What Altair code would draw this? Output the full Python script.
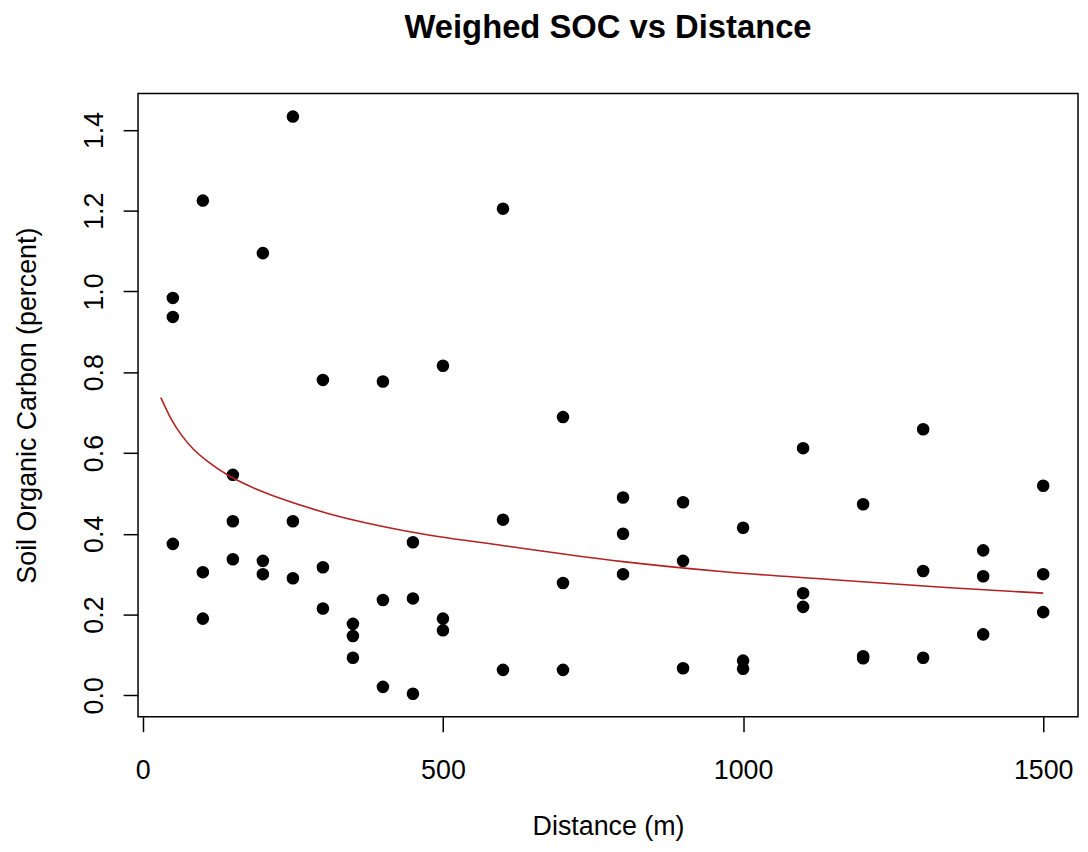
import altair as alt
import pandas as pd

# Scatter data
distance = [50, 50, 50, 100, 100, 100, 150, 150, 150, 200, 200, 200,
            250, 250, 250, 300, 300, 300, 350, 350, 350, 400, 400, 400,
            450, 450, 450, 500, 500, 500, 600, 600, 600, 700, 700, 700,
            800, 800, 800, 900, 900, 900, 1000, 1000, 1000, 1100, 1100, 1100,
            1200, 1200, 1200, 1300, 1300, 1300, 1400, 1400, 1400, 1500, 1500, 1500]
soc = [0.984, 0.937, 0.375, 1.225, 0.305, 0.190, 0.546, 0.431, 0.337,
       1.095, 0.333, 0.300, 1.433, 0.431, 0.290, 0.781, 0.317, 0.215,
       0.177, 0.147, 0.093, 0.777, 0.236, 0.021, 0.379, 0.240, 0.004,
       0.816, 0.190, 0.161, 1.205, 0.435, 0.063, 0.689, 0.278, 0.063,
       0.490, 0.400, 0.300, 0.478, 0.333, 0.067, 0.415, 0.086, 0.066,
       0.612, 0.253, 0.219, 0.473, 0.097, 0.092, 0.659, 0.308, 0.093,
       0.359, 0.295, 0.151, 0.519, 0.300, 0.206]

# Fitted curve
fit_x = [30, 48, 65, 84, 109, 142, 181, 236, 307, 445, 599, 800, 968, 1145, 1338, 1500]
fit_y = [0.737, 0.682, 0.643, 0.610, 0.578, 0.545, 0.516, 0.484, 0.451, 0.405,
         0.371, 0.331, 0.306, 0.287, 0.267, 0.253]

x_ticks = [0, 500, 1000, 1500]
y_ticks = [0.0, 0.2, 0.4, 0.6, 0.8, 1.0, 1.2, 1.4]

pts = pd.DataFrame({"Distance": distance, "SOC": soc})
fit = pd.DataFrame({"Distance": fit_x, "SOC": fit_y})

FONT = "Liberation Sans"
PW, PH = 947, 628

xscale = alt.Scale(domain=[-8, 1558], nice=False, zero=False)
yscale = alt.Scale(domain=[-0.0532, 1.4902], nice=False, zero=False)

xaxis = alt.Axis(
    values=x_ticks, format="d", title="Distance (m)", grid=False, domain=False,
    tickSize=15, tickColor="black", tickWidth=1.5,
    labelFont=FONT, labelFontSize=27, labelColor="black",
    labelBaseline="alphabetic", labelAlign="center", labelPadding=47,
    labelFlush=False, labelOverlap=False,
    titleFont=FONT, titleFontSize=27, titleFontWeight="normal", titleColor="black",
    titleBaseline="alphabetic", titleAlign="center", titleX=PW / 2, titleY=119,
)
yaxis = alt.Axis(
    values=y_ticks, format=".1f", title="Soil Organic Carbon (percent)",
    grid=False, domain=False,
    tickSize=15, tickColor="black", tickWidth=1.5,
    labelFont=FONT, labelFontSize=27, labelColor="black",
    labelAngle=270, labelBaseline="alphabetic", labelAlign="center", labelPadding=21,
    labelFlush=False, labelOverlap=False,
    titleFont=FONT, titleFontSize=27, titleFontWeight="normal", titleColor="black",
    titleAngle=270, titleBaseline="alphabetic", titleAlign="center",
    titleX=-103, titleY=PH / 2,
)

points = alt.Chart(pts).mark_circle(size=160, color="black", opacity=1).encode(
    x=alt.X("Distance:Q", scale=xscale, axis=xaxis),
    y=alt.Y("SOC:Q", scale=yscale, axis=yaxis),
)
line = alt.Chart(fit).mark_line(
    color="#B22222", strokeWidth=1.6, interpolate="monotone"
).encode(
    x=alt.X("Distance:Q", scale=xscale),
    y=alt.Y("SOC:Q", scale=yscale),
)

chart = (
    alt.layer(points, line)
    .properties(
        width=PW, height=PH,
        autosize=alt.AutoSizeParams(type="none"),
        padding={"left": 131, "top": 83, "right": 2, "bottom": 125},
        title=alt.TitleParams(
            "Weighed SOC vs Distance", anchor="middle", frame="group",
            font=FONT, fontSize=33, fontWeight="bold", color="black",
            baseline="alphabetic", offset=23,
        ),
        background="white",
    )
    .configure_view(stroke="black", strokeWidth=1.5)
)

chart.save("out.html", embed_options={"renderer": "svg", "actions": False})
